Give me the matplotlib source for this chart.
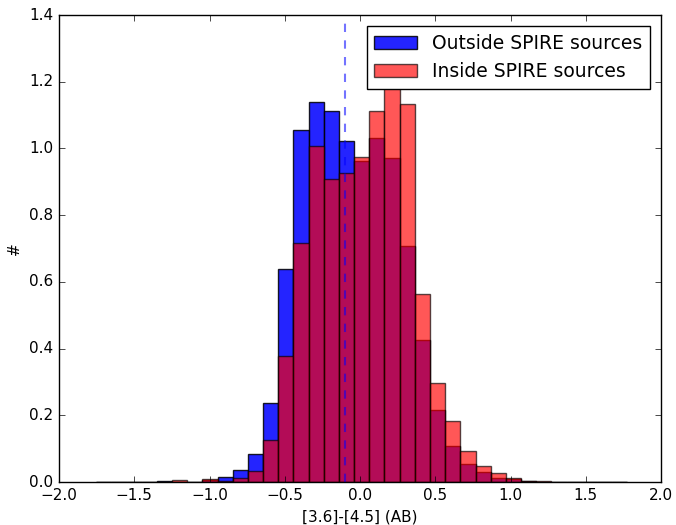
import numpy as np
import matplotlib
matplotlib.use("Agg")
import matplotlib.pyplot as plt

plt.style.use("classic")

# binning of the [3.6]-[4.5] colour
bin_lo, bin_hi, n_bins = -1.753, 1.775, 35

# normalised counts per bin
outside = [0.001, 0.0, 0.001, 0.0, 0.002, 0.001, 0.0, 0.006, 0.016, 0.036,
           0.083, 0.236, 0.638, 1.055, 1.140, 1.112, 1.022, 0.963, 1.030, 0.972,
           0.708, 0.426, 0.215, 0.109, 0.053, 0.031, 0.013, 0.009, 0.004, 0.001,
           0.001, 0.0, 0.0, 0.001, 0.0]
inside = [0.0, 0.0, 0.0, 0.0, 0.001, 0.007, 0.0, 0.008, 0.004, 0.012,
          0.034, 0.127, 0.379, 0.717, 1.008, 0.908, 0.927, 0.973, 1.112, 1.185,
          1.132, 0.563, 0.298, 0.183, 0.094, 0.048, 0.026, 0.013, 0.002, 0.004,
          0.001, 0.0, 0.0, 0.0, 0.0]
median_colour = -0.1

edges = np.linspace(bin_lo, bin_hi, n_bins + 1)
centres = 0.5 * (edges[:-1] + edges[1:])

fig = plt.figure(figsize=(6.76, 5.25), dpi=100, facecolor="white")
ax = fig.add_axes([0.0873, 0.0819, 0.8907, 0.8895])

ax.hist(centres, bins=edges, weights=outside, color="b", alpha=0.86,
        label="Outside SPIRE sources")
ax.hist(centres, bins=edges, weights=inside, color="r", alpha=0.66,
        label="Inside SPIRE sources")
ax.axvline(median_colour, color="b", ls="--", lw=1.5, alpha=0.55)

ax.set_xlim(-2.0, 2.0)
ax.set_ylim(0, 1.4)
ax.set_xlabel("[3.6]-[4.5] (AB)", fontsize=11)
ax.set_ylabel("#", fontsize=11)
ax.tick_params(labelsize=11)
ax.legend(loc="upper right", fontsize=13.5, handlelength=2.3,
          borderaxespad=0.6)

fig.savefig("out.png", dpi=100, facecolor="white")
